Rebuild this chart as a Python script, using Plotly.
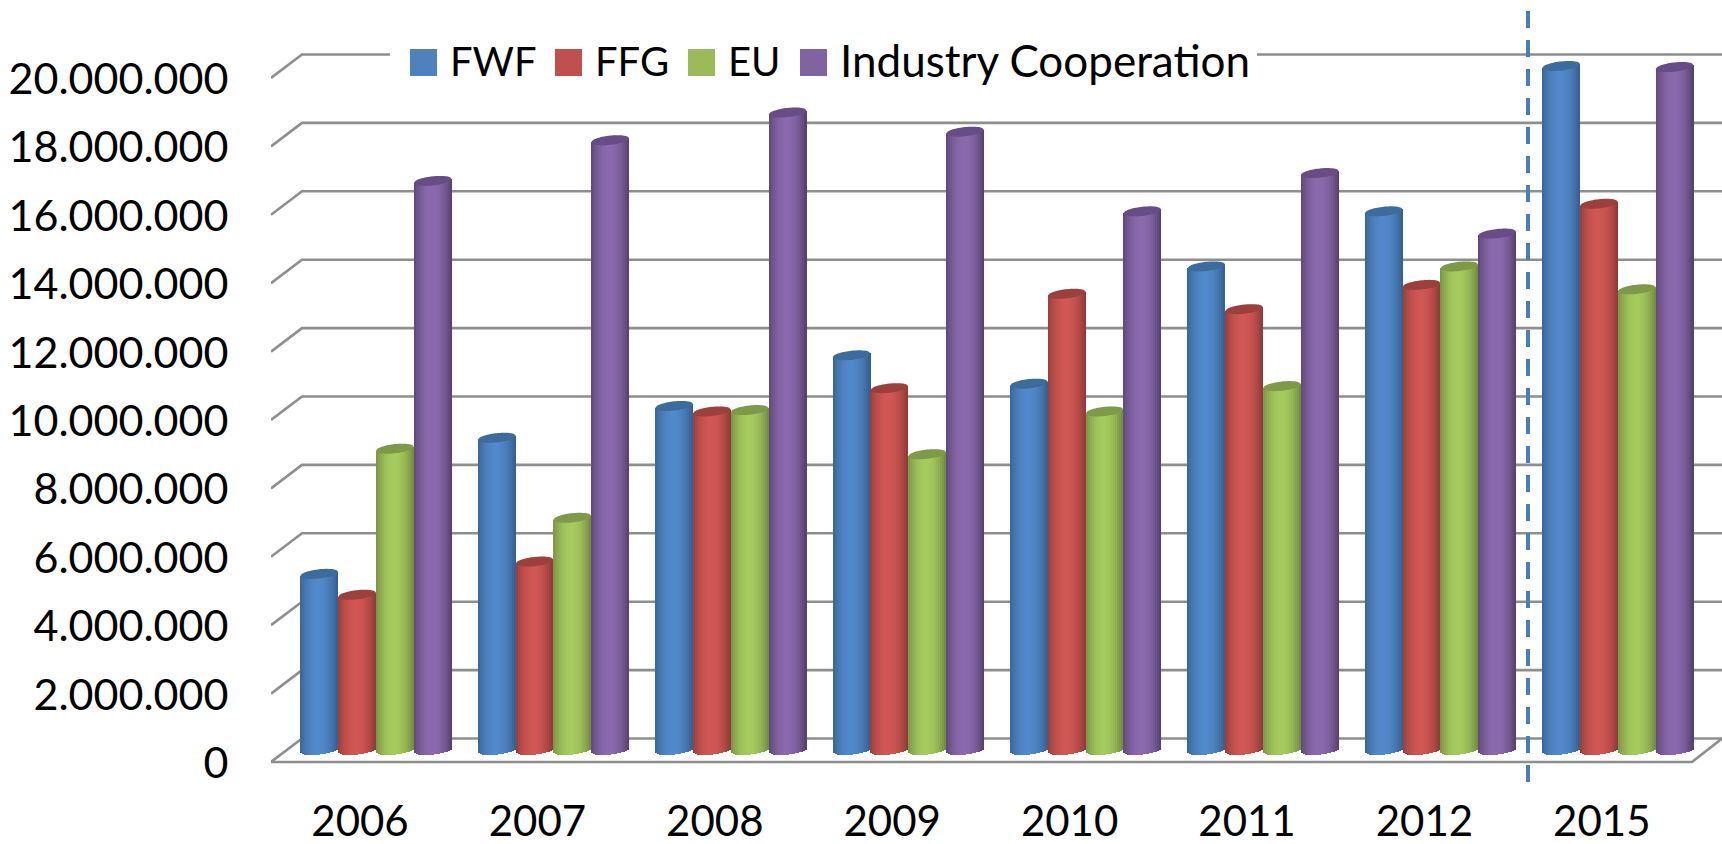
import numpy as np
import plotly.graph_objects as go

years = ["2006", "2007", "2008", "2009", "2010", "2011", "2012", "2015"]
FWF = [5150000, 9130000, 10060000, 11540000, 10710000, 14140000, 15750000, 20000000]
FFG = [4540000, 5510000, 9900000, 10580000, 13340000, 12890000, 13600000, 15970000]
EU = [8810000, 6790000, 9940000, 8650000, 9900000, 10640000, 14140000, 13470000]
IC = [16640000, 17830000, 18640000, 18080000, 15750000, 16870000, 15100000, 19970000]
tick_values = [0, 2000000, 4000000, 6000000, 8000000, 10000000, 12000000, 14000000, 16000000, 18000000, 20000000]
series = [
    ("FWF", FWF, "#4f81bd", "#5289ca", "#345d8b", "#3c6b9e"),
    ("FFG", FFG, "#c0504d", "#d05754", "#8a3937", "#9c403d"),
    ("EU", EU, "#9bbb59", "#a6ca5e", "#6f873e", "#7e9947"),
    ("Industry Cooperation", IC, "#8064a2", "#8b69ae", "#53406b", "#674c85"),
]

W, H = 1722, 844
plot_l, plot_b = 271, 784
px_per_unit = 684 / 20e6
x0_px, pitch = 376.0, 177.4
bar_px = 37.8
FONT = "Lato"
FS = 42
FS_Y = 43


def dx(px):
    return px / pitch


def dy(px):
    return px / px_per_unit


def hex_mix(a, b, t):
    ca = np.array([int(a[i:i + 2], 16) for i in (1, 3, 5)], float)
    cb = np.array([int(b[i:i + 2], 16) for i in (1, 3, 5)], float)
    c = ca + (cb - ca) * t
    return "rgb(%d,%d,%d)" % tuple(c.round())


def px_x(p):
    return (p - plot_l) / (W - plot_l)


def px_y(p):
    return 1 - p / plot_b


xs = list(range(len(years)))
x_range = [dx(plot_l - x0_px), dx(W - x0_px)]
y_range = [dy(750 - plot_b), dy(750)]

fig = go.Figure()
shapes = []

# wall gridlines, behind the bars
front_off, back_off = dy(-12), dy(11.5)
x_fl, x_bl, x_r = x_range[0], dx(302 - x0_px), x_range[1]
grid_line = dict(color="#8e8e8e", width=2.6)
for v in tick_values:
    path = f"M{x_fl:.5f},{v + front_off:.1f}L{x_bl:.5f},{v + back_off:.1f}L{x_r:.5f},{v + back_off:.1f}"
    shapes.append(dict(type="path", path=path, xref="x", yref="y", line=grid_line, layer="below"))
floor = f"M{x_fl:.5f},{front_off:.1f}L{dx(1692 - x0_px):.5f},{front_off:.1f}L{x_r:.5f},{back_off:.1f}"
shapes.append(dict(type="path", path=floor, xref="x", yref="y", line=grid_line, layer="below"))

# white gap behind the legend
shapes.append(dict(type="rect", xref="paper", yref="paper", x0=px_x(390), x1=px_x(1257),
                   y0=px_y(82), y1=px_y(30), fillcolor="white", line_width=0, layer="above"))

STRIPS = 19
d_cap, t_cap = 4.6, 2.0
edges = np.linspace(-1, 1, STRIPS + 1)
legend_ids = ["legend", "legend2", "legend3", "legend4"]
for s_i, (name, vals, flat, light, dark, cap) in enumerate(series):
    start = (-2 + s_i) * dx(bar_px)
    fig.add_trace(go.Bar(x=xs, y=vals, name=name, marker=dict(color=flat, line_width=0),
                         width=dx(bar_px) * 0.6, offset=start + dx(bar_px) * 0.2,
                         legend=legend_ids[s_i]))
    for k in range(STRIPS):
        u = (edges[k] + edges[k + 1]) / 2
        shade = 1 - abs((u + 0.05) / 1.05) ** 2.0
        col = hex_mix(dark, light, min(max(shade, 0), 1))
        bot = dy(t_cap * u - d_cap * np.sqrt(max(1 - u * u, 0)))
        top_off = dy(t_cap * u)
        fig.add_trace(go.Bar(
            x=xs, y=[v + top_off - bot for v in vals], base=[bot] * len(xs),
            marker=dict(color=col, line_width=0),
            width=dx(bar_px) / STRIPS * 1.05,
            offset=start + dx(bar_px) * (edges[k] + 1) / 2,
            showlegend=False, hoverinfo="skip"))
    # top caps
    us = np.linspace(-1, 1, 25)
    for i, v in zip(xs, vals):
        cx = i + start + dx(bar_px) / 2
        upper = [(cx + u * dx(bar_px) / 2, v + dy(t_cap * u + d_cap * np.sqrt(1 - u * u))) for u in us]
        lower = [(cx + u * dx(bar_px) / 2, v + dy(t_cap * u - d_cap * np.sqrt(1 - u * u))) for u in us[::-1]]
        path = "M" + "L".join(f"{a:.5f},{b:.1f}" for a, b in upper + lower) + "Z"
        shapes.append(dict(type="path", path=path, xref="x", yref="y", fillcolor=cap,
                           line_width=0, layer="above"))

# legend swatches drawn to full size beneath the native legends
swatch_x = [410, 555, 688, 800]
text_x = [452, 597, 730, 842]
legend_sizes = [40, 40, 40, 44]
for sx, s in zip(swatch_x, series):
    shapes.append(dict(type="rect", xref="paper", yref="paper", x0=px_x(sx), x1=px_x(sx + 27),
                       y0=px_y(76), y1=px_y(49), fillcolor=s[2], line_width=0, layer="above"))

# separator between the measured years and 2015
sep = dx(1528 - x0_px)
shapes.append(dict(type="line", xref="x", yref="paper", x0=sep, x1=sep, y0=px_y(782), y1=px_y(8),
                   line=dict(color="#4a7ebb", width=4, dash="17px,12px"), layer="above"))

legends = {}
for lid, tx, fs in zip(legend_ids, text_x, legend_sizes):
    legends[lid] = dict(orientation="h", x=px_x(tx - 42), xanchor="left", y=px_y(60.5), yanchor="middle",
                        bgcolor="rgba(0,0,0,0)", font=dict(family=FONT, size=fs, color="black"),
                        itemclick=False, itemdoubleclick=False)

fig.update_layout(
    width=W, height=H, autosize=False,
    margin=dict(l=plot_l, r=0, t=0, b=H - plot_b, pad=0),
    paper_bgcolor="white", plot_bgcolor="rgba(0,0,0,0)",
    barmode="overlay", bargap=0,
    font=dict(family=FONT, size=FS, color="black"),
    shapes=shapes,
    showlegend=True,
    xaxis=dict(range=x_range, tickmode="array", tickvals=[i + dx(-16) for i in xs], ticktext=years,
               automargin=False, showgrid=False, zeroline=False, showline=False,
               ticks="outside", ticklen=1, tickcolor="white",
               tickfont=dict(family=FONT, size=FS, color="black")),
    yaxis=dict(range=y_range, tickmode="array", tickvals=[v + dy(-13) for v in tick_values],
               ticktext=[f"{v:,}".replace(",", ".") for v in tick_values],
               automargin=False, showgrid=False, zeroline=False, showline=False,
               ticks="outside", ticklen=33, tickcolor="white",
               tickfont=dict(family=FONT, size=FS_Y, color="black")),
    **legends,
)
fig.write_html("out.html", config=dict(displayModeBar=False),
               post_script="document.body.style.margin='0';document.body.style.overflow='hidden';")
